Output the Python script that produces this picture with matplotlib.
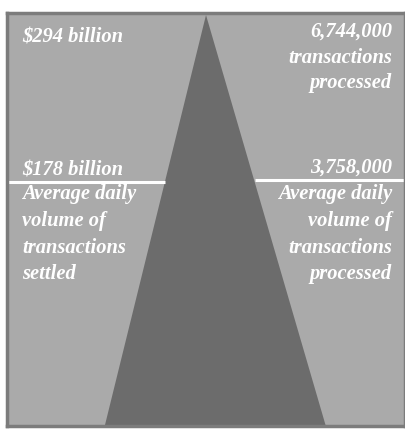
import matplotlib.pyplot as plt
from matplotlib.patches import Polygon

# daily volume settled (billions of $) and transactions processed
settled_labels = ["$294 billion", "$178 billion"]
settled_values = [294, 178]
processed_labels = ["6,744,000", "3,758,000"]
processed_values = [6744000, 3758000]
peak_caption = "transactions\nprocessed"
avg_left_caption = "Average daily\nvolume of\ntransactions\nsettled"
avg_right_caption = "Average daily\nvolume of\ntransactions\nprocessed"

bg = "#aaaaaa"
tri_color = "#6c6c6c"
edge = "#7c7c7c"

fig = plt.figure(figsize=(4.05, 4.3), dpi=100)
fig.patch.set_facecolor("white")
ax = fig.add_axes([7/405, 4/430, 398/405, 413/430])
ax.set_facecolor(bg)
ax.set_xlim(0, 1)
ax.set_ylim(8.5, 295.4)
ax.set_xticks([])
ax.set_yticks([])
for s in ax.spines.values():
    s.set_color(edge)
    s.set_linewidth(2.5)

peak = settled_values[0]
avg = settled_values[1]

# triangle from the peak down to zero (base is clipped by the frame)
tri = Polygon([(0.5, peak), (0.238, 0), (0.81, 0)], closed=True,
              facecolor=tri_color, edgecolor="none")
ax.add_patch(tri)

# average line, broken by the triangle
def edge_x(y, x0):
    return 0.5 + (x0 - 0.5) * (peak - y) / peak

ax.plot([0, edge_x(avg, 0.238)], [avg, avg], color="white", lw=2.2, solid_capstyle="butt")
ax.plot([edge_x(avg, 0.81), 1], [avg + 1.2, avg + 1.2], color="white", lw=2.2, solid_capstyle="butt")

font = dict(family="Liberation Serif", style="italic", weight="bold", color="white", fontsize=14.8)
tr = ax.transAxes

ax.text(15/398, 1 - 29/413, settled_labels[0], ha="left", va="baseline", transform=tr, **font)
ax.text(385/398, 1 - 9/413, processed_labels[0] + "\n" + peak_caption, ha="right", va="top",
        transform=tr, linespacing=1.38, **font)

ax.text(15/398, 1 - 162/413, settled_labels[1], ha="left", va="baseline", transform=tr, **font)
ax.text(385/398, 1 - 160/413, processed_labels[1], ha="right", va="baseline", transform=tr, **font)

ax.text(15/398, 1 - 171/413, avg_left_caption, ha="left", va="top", transform=tr,
        linespacing=1.45, **font)
ax.text(385/398, 1 - 171/413, avg_right_caption, ha="right", va="top", transform=tr,
        linespacing=1.45, multialignment="right", **font)

plt.savefig("out.png", dpi=100)
